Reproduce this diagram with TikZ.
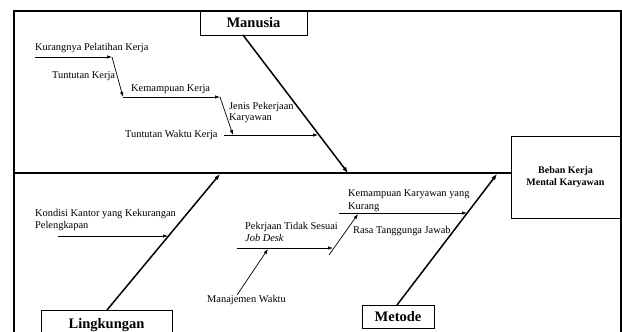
\documentclass[tikz,border=0pt]{standalone}
\usepackage{fontspec}
\setmainfont{Liberation Serif}
\usetikzlibrary{arrows.meta}
\begin{document}
\begin{tikzpicture}[x=1pt,y=-1pt,
  lbl/.style={font=\fontsize{10.4}{11.5}\selectfont, inner sep=0pt, anchor=west, align=left},
  cat/.style={draw, line width=0.8pt, font=\fontsize{14.5}{16}\selectfont\bfseries, inner sep=0pt},
  eff/.style={draw, line width=0.8pt, font=\fontsize{10}{12}\selectfont\bfseries, inner sep=0pt, align=center},
  spine/.style={line width=1.5pt, -{Latex[length=6pt,width=4.5pt]}},
  sub/.style={line width=0.7pt, -{Latex[length=5pt,width=3.5pt]}},
  frame/.style={line width=1.6pt},
  main/.style={line width=1.5pt},
]
\useasboundingbox (0,0) rectangle (622,332);
\fill[white] (0,0) rectangle (622,332);
% frame
\coordinate (f1) at (14,340);
\coordinate (f2) at (14,11);
\coordinate (f3) at (621,11);
\coordinate (f4) at (621,340);
\draw[frame] (f1) -- (f2) -- (f3) -- (f4);

% boxes
\node[cat, minimum width=107pt, minimum height=24pt] (man) at (253.5,23) {Manusia};
\node[cat, minimum width=131pt, minimum height=30pt] (lin) at (106.5,325) {Lingkungan};
\node[cat, minimum width=72pt, minimum height=23pt] (met) at (398,316.5) {Metode};
\node[eff, minimum width=109pt, minimum height=82pt] (eff) at (565.5,177) {Beban Kerja\\Mental Karyawan};

% main line
\coordinate (mL) at (14,173);
\draw[main] (mL) -- (mL -| eff.west);

% spines
\coordinate (manS) at (243,35);
\coordinate (manE) at (348,173);
\draw[spine] (manS) -- (manE);
\coordinate (linS) at (107,310);
\coordinate (linE) at (220,174);
\draw[spine] (linS) -- (linE);
\coordinate (metS) at (397,305);
\coordinate (metE) at (497,174);
\draw[spine] (metS) -- (metE);

% Manusia causes
\coordinate (a1) at (35,57);
\coordinate (a2) at (112,57);
\coordinate (a3) at (123,97);
\coordinate (a4) at (220,97);
\coordinate (a5) at (233,135);
\coordinate (a6) at (224,135);
\coordinate (a7) at (318,135);
\draw[sub] (a1) -- (a2);
\draw[sub] (a2) -- (a3);
\draw[sub] (a3) -- (a4);
\draw[sub] (a4) -- (a5);
\draw[sub] (a6) -- (a7);
\node[lbl] (t1) at (35,48) {Kurangnya Pelatihan Kerja};
\node[lbl] (t2) at (52,76) {Tuntutan Kerja};
\node[lbl] (t3) at (131,89) {Kemampuan Kerja};
\node[lbl] (t4) at (229,112.5) {Jenis Pekerjaan\\Karyawan};
\node[lbl] (t5) at (125,135) {Tuntutan Waktu Kerja};

% Lingkungan causes
\coordinate (b1) at (58,236);
\coordinate (b2) at (168,236);
\draw[sub] (b1) -- (b2);
\node[lbl, font=\fontsize{10.4}{12}\selectfont] (t6) at (35,220) {Kondisi Kantor yang Kekurangan\\Pelengkapan};

% Metode causes
\coordinate (c1) at (339,213);
\coordinate (c2) at (467,213);
\draw[sub] (c1) -- (c2);
\node[lbl, font=\fontsize{10.4}{13}\selectfont] (t7) at (348,201) {Kemampuan Karyawan yang\\Kurang};
\node[lbl] (t8) at (353,231) {Rasa Tanggunga Jawab};
\coordinate (c3) at (329,255);
\coordinate (c4) at (358,214);
\draw[sub] (c3) -- (c4);
\coordinate (c5) at (237,248);
\coordinate (c6) at (333,248);
\draw[sub] (c5) -- (c6);
\node[lbl, font=\fontsize{10.4}{12}\selectfont] (t9) at (245,232) {Pekrjaan Tidak Sesuai\\\textit{Job Desk}};
\node[lbl] (t10) at (207,300) {Manajemen Waktu};
\coordinate (c7) at (237,295);
\coordinate (c8) at (268,249);
\draw[sub] (c7) -- (c8);
\end{tikzpicture}
\end{document}
